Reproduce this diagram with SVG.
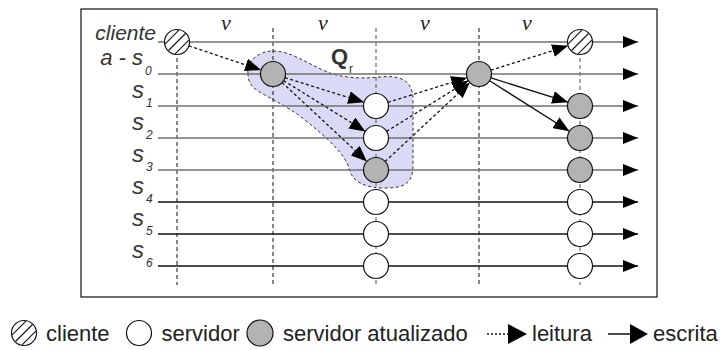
<svg xmlns="http://www.w3.org/2000/svg" xmlns:xlink="http://www.w3.org/1999/xlink" width="722" height="350" viewBox="0 0 722 350">
<style>
.lbl{font-family:"Liberation Sans",Arial,sans-serif;font-style:italic;fill:#333}
.v{font-family:"Liberation Serif","Times New Roman",serif;font-style:italic;font-size:22px;fill:#222}
.leg{font-family:"Liberation Sans",Arial,sans-serif;font-size:22px;fill:#222}
.tl{fill:none;stroke-width:1.3;marker-end:url(#ah)}
.vd{fill:none;stroke:#111;stroke-width:1;stroke-dasharray:4 3}
.rd{fill:none;stroke:#111;stroke-width:1.3;stroke-dasharray:3 2.5;marker-end:url(#ah2)}
.wr{fill:none;stroke:#111;stroke-width:1.3;marker-end:url(#ah2)}
.srv{fill:#fff;stroke:#111;stroke-width:1.2}
.upd{fill:#b3b3b3;stroke:#111;stroke-width:1.2}
</style>
<defs>
<marker id="ah" markerUnits="userSpaceOnUse" viewBox="0 0 15 12" refX="15" refY="6" markerWidth="15" markerHeight="12" orient="auto">
<path d="M0,0 L15,6 L0,12 Z" fill="#000"/>
</marker>
<marker id="ah2" markerUnits="userSpaceOnUse" viewBox="0 0 16 13" refX="16" refY="6.5" markerWidth="16" markerHeight="13" orient="auto">
<path d="M0,0 L16,6.5 L0,13 Z" fill="#000"/>
</marker>
<g id="cli">
<circle r="12.5" fill="#fff" stroke="#111" stroke-width="1.2"/>
<path d="M-8.5,8.5 L8.5,-8.5 M-1.9,11.8 L11.8,-1.9 M-11.8,1.9 L1.9,-11.8" stroke="#111" stroke-width="1.1"/>
</g>
</defs>

<rect x="81" y="9" width="576" height="288" fill="#fff" stroke="#222" stroke-width="1.3"/>

<path id="Qr-region" d="M248,74 C246,62 258,51 273,51 C290,51 305,62 325,71 C340,78 360,79 380,77 C400,75 413,80 413,100 L413,165 C413,183 405,188 385,188 C365,188 352,182 349,168 C345,155 330,140 305,120 C285,104 262,95 254,88 C249,83 248,79 248,74 Z" fill="#dadaf7" stroke="#333" stroke-width="1" stroke-dasharray="3 2.5"/>

<g id="time-lines">
<path class="vd" d="M177,30 V285"/>
<path class="vd" d="M273,28 V285"/>
<path class="vd" d="M376,28 V285" style="stroke:#555"/>
<path class="vd" d="M479,28 V285"/>
<path class="vd" d="M580,30 V285" style="stroke:#555"/>
</g>

<g id="timelines">
<path class="tl" stroke="#707070" d="M158,42 H638"/>
<path class="tl" stroke="#707070" d="M158,74 H638"/>
<path class="tl" stroke="#707070" d="M158,106 H638"/>
<path class="tl" stroke="#707070" d="M158,138 H638"/>
<path class="tl" stroke="#707070" d="M158,170 H638"/>
<path class="tl" stroke="#111" d="M158,202 H638"/>
<path class="tl" stroke="#111" d="M158,234 H638"/>
<path class="tl" stroke="#111" d="M158,266 H638"/>
</g>

<g id="labels">
<text class="lbl" x="156" y="40" font-size="21" text-anchor="end">cliente</text>
<text class="lbl" x="143" y="65" font-size="22" text-anchor="end">a - s</text>
<text class="lbl" x="145" y="75" font-size="12">0</text>
<text class="lbl" x="144" y="98" font-size="24" text-anchor="end">s</text>
<text class="lbl" x="146" y="107" font-size="12">1</text>
<text class="lbl" x="144" y="130" font-size="24" text-anchor="end">s</text>
<text class="lbl" x="146" y="139" font-size="12">2</text>
<text class="lbl" x="144" y="162" font-size="24" text-anchor="end">s</text>
<text class="lbl" x="146" y="171" font-size="12">3</text>
<text class="lbl" x="144" y="194" font-size="24" text-anchor="end">s</text>
<text class="lbl" x="146" y="203" font-size="12">4</text>
<text class="lbl" x="144" y="226" font-size="24" text-anchor="end">s</text>
<text class="lbl" x="146" y="235" font-size="12">5</text>
<text class="lbl" x="144" y="258" font-size="24" text-anchor="end">s</text>
<text class="lbl" x="146" y="267" font-size="12">6</text>
<text class="v" x="226" y="30" text-anchor="middle">v</text>
<text class="v" x="323" y="30" text-anchor="middle">v</text>
<text class="v" x="425" y="30" text-anchor="middle">v</text>
<text class="v" x="527" y="30" text-anchor="middle">v</text>
<text x="331" y="64" font-family="Liberation Sans,Arial,sans-serif" font-weight="bold" font-size="22" fill="#333">Q</text>
<text x="349" y="73" font-family="Liberation Sans,Arial,sans-serif" font-size="12" fill="#333">r</text>
</g>

<g id="connectors">
<path class="rd" d="M188.9,46 L261.1,70"/>
<path class="rd" d="M284.9,77.7 L364.1,102.3"/>
<path class="rd" d="M283.6,80.6 L365.4,131.4"/>
<path class="rd" d="M282.1,82.5 L366.9,161.5"/>
<path class="rd" d="M387.9,102.3 L467.1,77.7"/>
<path class="rd" d="M386.6,131.4 L468.4,80.6"/>
<path class="rd" d="M385.1,161.5 L469.9,82.5"/>
<path class="rd" d="M490.9,70.2 L568.1,45.8"/>
<path class="wr" d="M490.9,77.8 L568.1,102.2"/>
<path class="wr" d="M489.6,80.7 L569.4,131.3"/>
</g>

<g id="node-cliente-1"><use xlink:href="#cli" href="#cli" x="177" y="42"/></g>
<g id="node-a-s0-1"><circle class="upd" cx="273" cy="74" r="12.5"/></g>
<g id="node-s1-2"><circle class="srv" cx="376" cy="106" r="12.5"/></g>
<g id="node-s2-2"><circle class="srv" cx="376" cy="138" r="12.5"/></g>
<g id="node-s3-2"><circle class="upd" cx="376" cy="170" r="12.5"/></g>
<g id="node-s4-2"><circle class="srv" cx="376" cy="202" r="12.5"/></g>
<g id="node-s5-2"><circle class="srv" cx="376" cy="234" r="12.5"/></g>
<g id="node-s6-2"><circle class="srv" cx="376" cy="266" r="12.5"/></g>
<g id="node-a-s0-3"><circle class="upd" cx="479" cy="74" r="12.5"/></g>
<g id="node-cliente-4"><use xlink:href="#cli" href="#cli" x="580" y="42"/></g>
<g id="node-s1-4"><circle class="upd" cx="580" cy="106" r="12.5"/></g>
<g id="node-s2-4"><circle class="upd" cx="580" cy="138" r="12.5"/></g>
<g id="node-s3-4"><circle class="upd" cx="580" cy="170" r="12.5"/></g>
<g id="node-s4-4"><circle class="srv" cx="580" cy="202" r="12.5"/></g>
<g id="node-s5-4"><circle class="srv" cx="580" cy="234" r="12.5"/></g>
<g id="node-s6-4"><circle class="srv" cx="580" cy="266" r="12.5"/></g>

<g id="legend">
<use xlink:href="#cli" href="#cli" x="24" y="333"/>
<text class="leg" x="46" y="341">cliente</text>
<circle class="srv" cx="139" cy="333" r="12.5"/>
<text class="leg" x="161.5" y="341">servidor</text>
<circle class="upd" cx="260" cy="333" r="13"/>
<text class="leg" x="283" y="341">servidor atualizado</text>
<path d="M487,334 H509" stroke="#111" stroke-width="1.3" stroke-dasharray="2 2"/>
<path d="M508,324 L527,334 L508,344 Z" fill="#000"/>
<text class="leg" x="532" y="341">leitura</text>
<path d="M608,334 H631" stroke="#111" stroke-width="1.5"/>
<path d="M630,324 L648,334 L630,344 Z" fill="#000"/>
<text class="leg" x="653" y="341">escrita</text>
</g>
</svg>
